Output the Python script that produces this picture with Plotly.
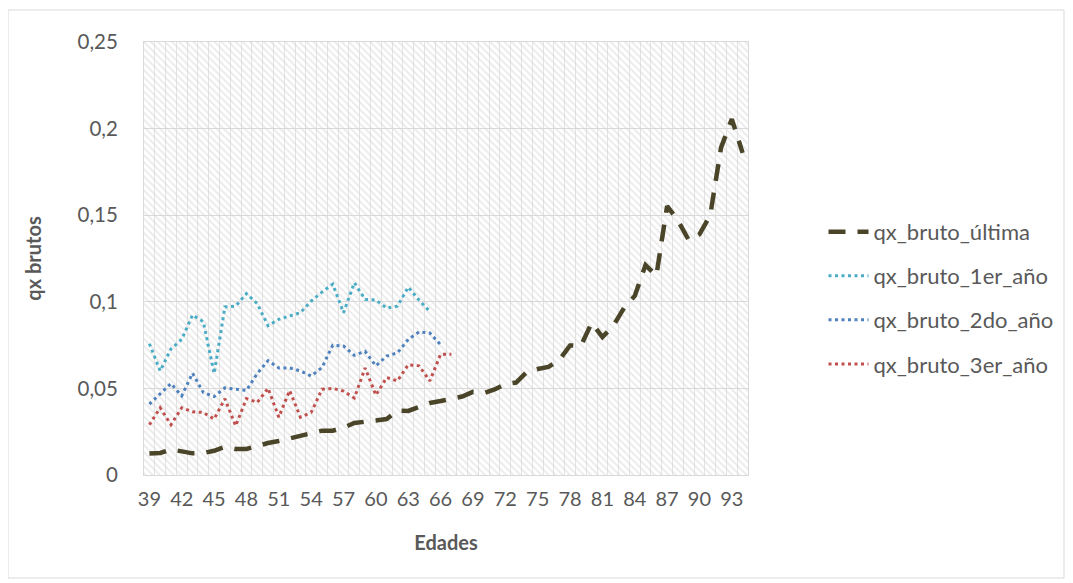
import plotly.graph_objects as go

# ---- data ----
ages = list(range(39, 95))

qx_ultima = [0.0124, 0.0127, 0.0148, 0.0138, 0.0125, 0.0127, 0.0140, 0.0162, 0.0150, 0.0150,
             0.0170, 0.0185, 0.0196, 0.0210, 0.0225, 0.0242, 0.0256, 0.0256, 0.0274, 0.0300,
             0.0306, 0.0318, 0.0323, 0.0372, 0.0370, 0.0393, 0.0416, 0.0427, 0.0439, 0.0453,
             0.0480, 0.0473, 0.0494, 0.0525, 0.0534, 0.0595, 0.0612, 0.0624, 0.0664, 0.0748,
             0.0745, 0.0878, 0.0797, 0.0860, 0.0964, 0.1034, 0.1212, 0.1150, 0.1553, 0.1470,
             0.1357, 0.1390, 0.1500, 0.1890, 0.2055, 0.1860]

qx_1er = [0.0758, 0.0601, 0.0728, 0.0783, 0.0924, 0.0885, 0.0586, 0.0970, 0.0975, 0.1047,
          0.0989, 0.0862, 0.0899, 0.0918, 0.0937, 0.1004, 0.1056, 0.1102, 0.0937, 0.1110,
          0.1014, 0.1010, 0.0964, 0.0975, 0.1085, 0.1010, 0.0945]

qx_2do = [0.0409, 0.0469, 0.0528, 0.0457, 0.0588, 0.0476, 0.0453, 0.0503, 0.0495, 0.0488,
          0.0586, 0.0660, 0.0618, 0.0618, 0.0601, 0.0572, 0.0620, 0.0749, 0.0745, 0.0691,
          0.0714, 0.0630, 0.0687, 0.0705, 0.0783, 0.0826, 0.0820, 0.0752]

qx_3er = [0.0290, 0.0388, 0.0290, 0.0388, 0.0365, 0.0361, 0.0323, 0.0440, 0.0284, 0.0441,
          0.0419, 0.0501, 0.0334, 0.0488, 0.0334, 0.0361, 0.0495, 0.0500, 0.0484, 0.0445,
          0.0618, 0.0461, 0.0563, 0.0543, 0.0637, 0.0630, 0.0543, 0.0697, 0.0697]

series_names = ["qx_bruto_última", "qx_bruto_1er_año", "qx_bruto_2do_año", "qx_bruto_3er_año"]
y_ticks = [0, 0.05, 0.1, 0.15, 0.2, 0.25]
x_ticks = ages[::3]

# ---- styling ----
FONT = "Lato, 'Open Sans', sans-serif"
TXT = "#595959"
GRID = "#d9d9d9"
Y_MAX = 0.25

fig = go.Figure()

# hatched plot-area background (decoration spanning the axis range)
fig.add_trace(go.Bar(
    x=[(ages[0] + ages[-1]) / 2], y=[Y_MAX], width=[len(ages)],
    marker=dict(color="rgba(0,0,0,0)", line=dict(width=0),
                pattern=dict(shape="\\", fgcolor="#d6d6d6", bgcolor="rgba(0,0,0,0)",
                             size=5, solidity=0.35)),
    showlegend=False, hoverinfo="skip"))

fig.add_trace(go.Scatter(
    x=ages[:len(qx_ultima)], y=qx_ultima, mode="lines", name=series_names[0],
    legendgroup="a", line=dict(color="#4A4528", width=4.5, dash="17px,12px")))
fig.add_trace(go.Scatter(
    x=ages[:len(qx_1er)], y=qx_1er, mode="lines", name=series_names[1],
    legendgroup="b", line=dict(color="#4BACC6", width=3, dash="3px,3.5px")))
fig.add_trace(go.Scatter(
    x=ages[:len(qx_2do)], y=qx_2do, mode="lines", name=series_names[2],
    legendgroup="c", line=dict(color="#4F81BD", width=3, dash="3px,3.5px")))
fig.add_trace(go.Scatter(
    x=ages[:len(qx_3er)], y=qx_3er, mode="lines", name=series_names[3],
    legendgroup="d", line=dict(color="#C0504D", width=3, dash="3px,3.5px")))

# the page body adds an 8px offset, so the figure is 8px smaller and margins compensate
fig.update_layout(
    width=1065, height=575,
    margin=dict(l=136, r=325, t=34, b=108),
    paper_bgcolor="white", plot_bgcolor="white",
    separators=", ",
    font=dict(family=FONT, size=20, color=TXT),
    showlegend=True,
    barmode="overlay",
    legend=dict(x=1.125, xanchor="left", y=0.61, yanchor="top",
                tracegroupgap=12.5, font=dict(size=22, color=TXT),
                bgcolor="rgba(0,0,0,0)", itemwidth=40),
    xaxis=dict(
        range=[ages[0] - 0.5, ages[-1] + 0.5],
        tickmode="array", tickvals=x_ticks, ticktext=[str(v) for v in x_ticks],
        showgrid=False, zeroline=False,
        showline=True, linecolor=GRID, linewidth=1, mirror=True,
        ticks="", ticklabelstandoff=6,
        tickfont=dict(size=20, color=TXT),
        minor=dict(tick0=ages[0] - 0.5, dtick=1, showgrid=True, gridcolor="#e3e3e3", gridwidth=1),
        title=dict(text="<b>Edades</b>", standoff=26, font=dict(size=20, color=TXT)),
    ),
    yaxis=dict(
        range=[0, Y_MAX], tickmode="array", tickvals=y_ticks,
        showgrid=True, gridcolor=GRID, gridwidth=1, zeroline=False,
        showline=True, linecolor=GRID, linewidth=1, mirror=True,
        ticks="", ticklabelstandoff=21,
        tickfont=dict(size=20.5, color=TXT),
        title=dict(text="<b>qx brutos</b>", standoff=30, font=dict(size=20, color=TXT)),
    ),
    shapes=[dict(type="rect", xref="paper", yref="paper",
                 x0=(8 - 144) / 604, x1=(1064 - 144) / 604,
                 y0=(475 - 578) / 433, y1=(475 - 10) / 433,
                 line=dict(color=GRID, width=1), fillcolor="rgba(0,0,0,0)", layer="below")],
)

fig.write_html("out.html")
